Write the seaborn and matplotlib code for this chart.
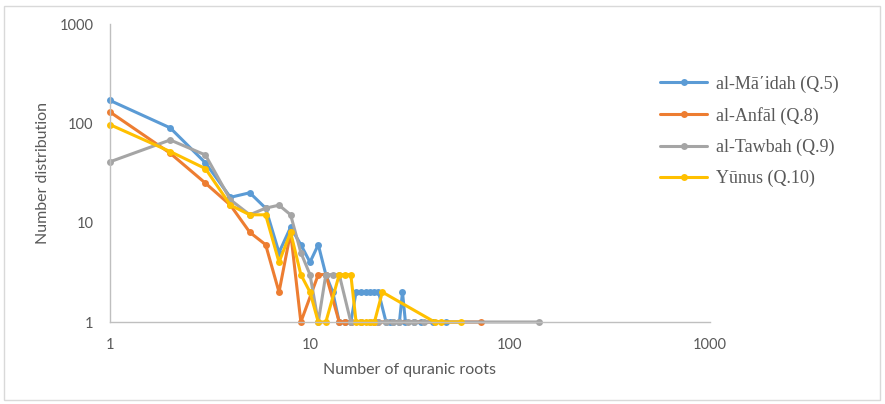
import pandas as pd
import matplotlib
matplotlib.use("Agg")
import matplotlib.pyplot as plt
import seaborn as sns
from matplotlib.patches import Rectangle

# values (log-log)
maidah_x = [1, 2, 3, 4, 5, 6, 7, 8, 9, 10, 11, 12, 13, 14, 15, 16, 17, 18, 19, 20, 21, 22,
            24, 25, 26, 28, 29, 30, 33, 36, 41, 48]
maidah_y = [170, 90, 40, 18, 20, 14, 5, 9, 6, 4, 6, 3, 2, 1, 1, 1, 2, 2, 2, 2, 2, 2,
            1, 1, 1, 1, 2, 1, 1, 1, 1, 1]

anfal_x = [1, 2, 3, 4, 5, 6, 7, 8, 9, 11, 12, 14, 15, 16, 18, 21, 22, 72]
anfal_y = [130, 50, 25, 15, 8, 6, 2, 8, 1, 3, 3, 1, 1, 1, 1, 1, 1, 1]

tawbah_x = [1, 2, 3, 4, 5, 6, 7, 8, 9, 10, 11, 12, 13, 14, 16, 18, 20, 22, 24, 26, 28,
            31, 33, 37, 140]
tawbah_y = [41, 68, 48, 17, 12, 14, 15, 12, 5, 3, 1, 3, 3, 3, 1, 1, 1, 1, 1, 1, 1,
            1, 1, 1, 1]

yunus_x = [1, 2, 3, 4, 5, 6, 7, 8, 9, 10, 11, 12, 14, 15, 16, 17, 18, 19, 20, 21, 23,
           42, 45, 57]
yunus_y = [97, 52, 35, 15, 12, 12, 4, 8, 3, 2, 1, 1, 3, 3, 3, 1, 1, 1, 1, 1, 2,
           1, 1, 1]

series = [
    ("al-Mā΄idah (Q.5)", maidah_x, maidah_y, "#5B9BD5"),
    ("al-Anfāl (Q.8)", anfal_x, anfal_y, "#ED7D31"),
    ("al-Tawbah (Q.9)", tawbah_x, tawbah_y, "#A5A5A5"),
    ("Yūnus (Q.10)", yunus_x, yunus_y, "#FFC000"),
]

sns.set_style("white")
plt.rcParams["font.family"] = ["Lato", "DejaVu Sans"]

fig = plt.figure(figsize=(8.85, 4.04), dpi=100)
ax = fig.add_axes([110 / 885, 1 - 322 / 404, 600 / 885, 298 / 404])

for name, xs, ys, col in series:
    df = pd.DataFrame({"x": xs, "y": ys})
    sns.lineplot(data=df, x="x", y="y", ax=ax, color=col, marker="o", markersize=5,
                 markeredgewidth=0, linewidth=2.2, label=name, sort=False,
                 estimator=None, clip_on=False)

ax.set_xscale("log")
ax.set_yscale("log")
ax.set_xlim(1, 1000)
ax.set_ylim(1, 1000)
ax.set_xticks([1, 10, 100, 1000])
ax.set_xticklabels(["1", "10", "100", "1000"])
ax.set_yticks([1, 10, 100, 1000])
ax.set_yticklabels(["1", "10", "100", "1000"])
ax.minorticks_off()
ax.tick_params(axis="both", length=0, labelsize=10.5, colors="#595959")
ax.tick_params(axis="x", pad=11.5)
ax.tick_params(axis="y", pad=12)

for side in ["top", "right"]:
    ax.spines[side].set_visible(False)
for side in ["left", "bottom"]:
    ax.spines[side].set_color("#bfbfbf")
    ax.spines[side].set_linewidth(1)

ax.set_xlabel("Number of quranic roots", fontsize=11.5, color="#595959", labelpad=8)
ax.set_ylabel("Number distribution", fontsize=11.5, color="#595959", labelpad=7)

leg = ax.legend(loc="upper left", bbox_to_anchor=(653 / 885, 1 - 68 / 404),
                bbox_transform=fig.transFigure, frameon=False,
                prop={"family": "Liberation Serif", "size": 13},
                labelcolor="#595959", handlelength=2.6, labelspacing=0.78,
                handletextpad=0.5, borderaxespad=0)

# chart area border
fig.patches.append(Rectangle((4 / 885, 4 / 404), 876 / 885, 394 / 404,
                             transform=fig.transFigure, fill=False,
                             edgecolor="#d9d9d9", linewidth=1))

fig.savefig("out.png", dpi=100)
